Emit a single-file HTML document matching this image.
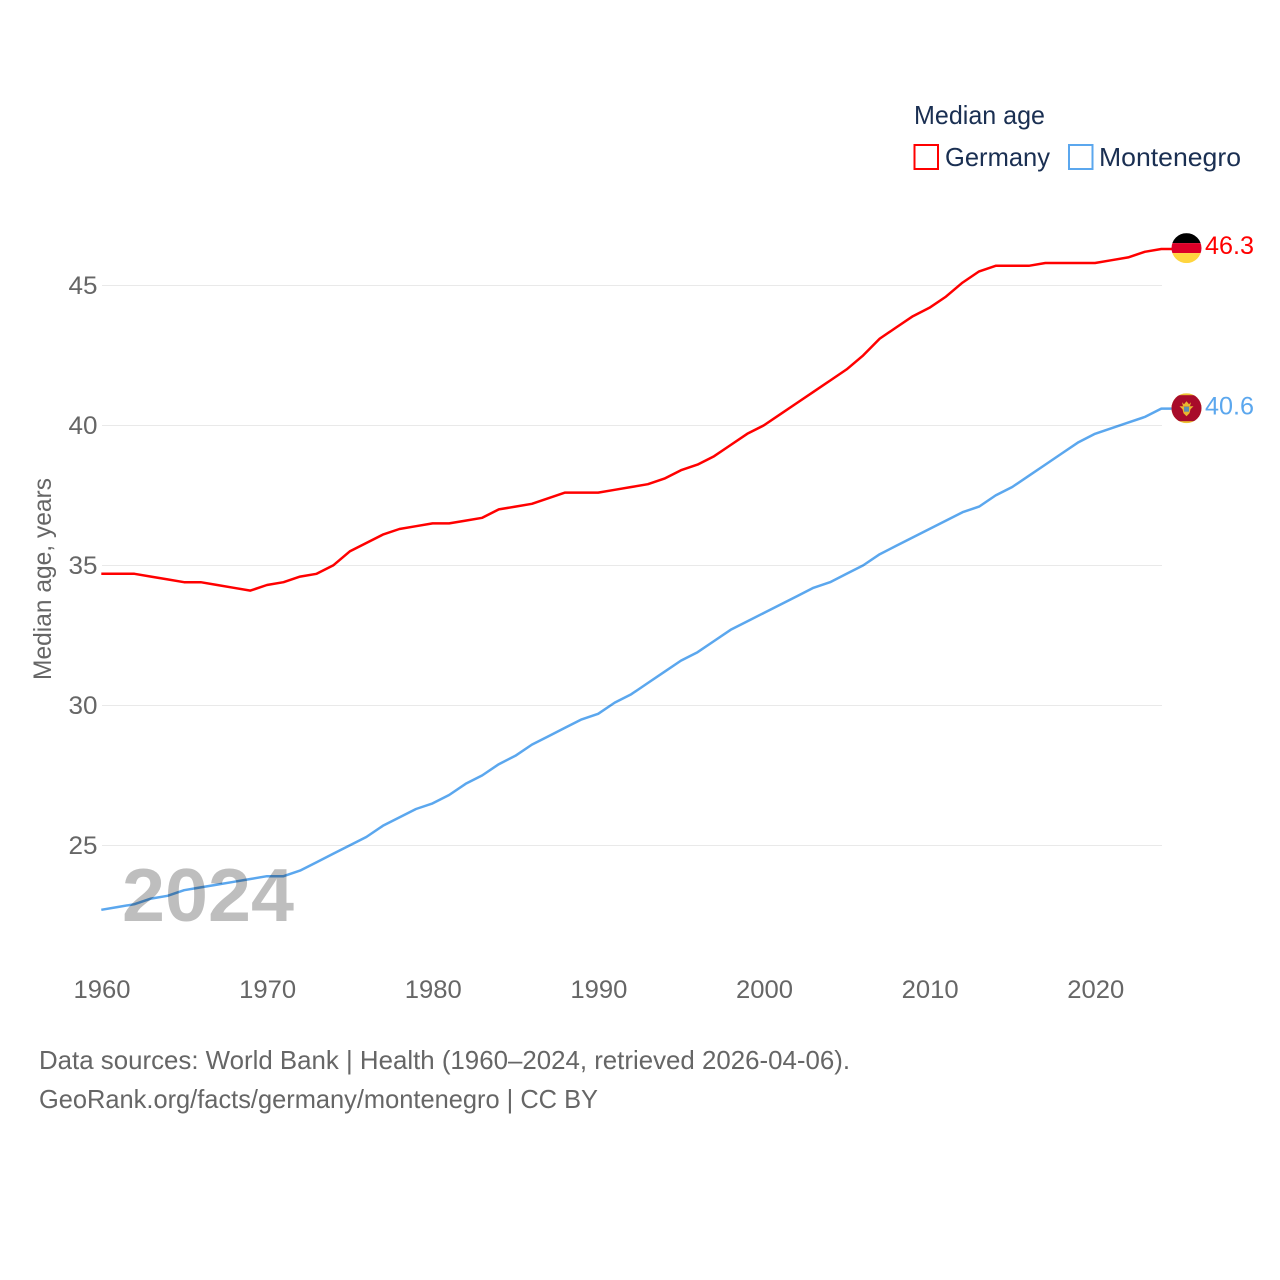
<!DOCTYPE html>
<html lang="en">
<head>
<meta charset="utf-8">
<title>Median age: Germany and Montenegro</title>
<style>
html,body{margin:0;padding:0;background:#fff;}
svg{display:block;font-family:"Liberation Sans",sans-serif;}
</style>
</head>
<body>
<svg id="chart" width="1280" height="1280" viewBox="0 0 1280 1280" xmlns="http://www.w3.org/2000/svg">
  <defs>
    <clipPath id="flag-clip-de"><circle cx="1186.5" cy="0" r="15"/></clipPath>
    <clipPath id="flag-clip-me"><circle cx="1186.5" cy="0" r="15"/></clipPath>
  </defs>
  <g id="grid"></g>
  <g id="y-ticks"></g>
  <g id="x-ticks"></g>
  <text transform="translate(51 680) rotate(-90)" font-size="25" fill="#666" textLength="202" lengthAdjust="spacingAndGlyphs">Median age, years</text>
  <text x="122" y="921" font-size="75" font-weight="700" fill="#bebebe" textLength="172" lengthAdjust="spacingAndGlyphs">2024</text>
  <g id="series" style="mix-blend-mode:multiply"></g>
  <g id="end-markers"></g>

  <g>
    <text x="914" y="124" font-size="26" fill="#1a2f52" textLength="131" lengthAdjust="spacingAndGlyphs">Median age</text>
    <rect x="914.5" y="145" width="23.5" height="24" fill="#fff" stroke="#ff0000" stroke-width="2"/>
    <text x="945" y="166" font-size="26" fill="#1a2f52" textLength="105" lengthAdjust="spacingAndGlyphs">Germany</text>
    <rect x="1069" y="145" width="23.5" height="24" fill="#fff" stroke="#5ba7ee" stroke-width="2"/>
    <text x="1099" y="166" font-size="26" fill="#1a2f52" textLength="142" lengthAdjust="spacingAndGlyphs">Montenegro</text>
  </g>

  <g font-size="26" fill="#666">
    <text x="39" y="1069" textLength="811" lengthAdjust="spacingAndGlyphs">Data sources: World Bank | Health (1960–2024, retrieved 2026-04-06).</text>
    <text x="39" y="1108" textLength="559" lengthAdjust="spacingAndGlyphs">GeoRank.org/facts/germany/montenegro | CC BY</text>
  </g>
</svg>
<script>
const years = [1960,1961,1962,1963,1964,1965,1966,1967,1968,1969,1970,1971,1972,1973,1974,1975,1976,1977,1978,1979,1980,1981,1982,1983,1984,1985,1986,1987,1988,1989,1990,1991,1992,1993,1994,1995,1996,1997,1998,1999,2000,2001,2002,2003,2004,2005,2006,2007,2008,2009,2010,2011,2012,2013,2014,2015,2016,2017,2018,2019,2020,2021,2022,2023,2024];
const germanyValues = [34.7,34.7,34.7,34.6,34.5,34.4,34.4,34.3,34.2,34.1,34.3,34.4,34.6,34.7,35.0,35.5,35.8,36.1,36.3,36.4,36.5,36.5,36.6,36.7,37.0,37.1,37.2,37.4,37.6,37.6,37.6,37.7,37.8,37.9,38.1,38.4,38.6,38.9,39.3,39.7,40.0,40.4,40.8,41.2,41.6,42.0,42.5,43.1,43.5,43.9,44.2,44.6,45.1,45.5,45.7,45.7,45.7,45.8,45.8,45.8,45.8,45.9,46.0,46.2,46.3];
const montenegroValues = [22.7,22.8,22.9,23.1,23.2,23.4,23.5,23.6,23.7,23.8,23.9,23.9,24.1,24.4,24.7,25.0,25.3,25.7,26.0,26.3,26.5,26.8,27.2,27.5,27.9,28.2,28.6,28.9,29.2,29.5,29.7,30.1,30.4,30.8,31.2,31.6,31.9,32.3,32.7,33.0,33.3,33.6,33.9,34.2,34.4,34.7,35.0,35.4,35.7,36.0,36.3,36.6,36.9,37.1,37.5,37.8,38.2,38.6,39.0,39.4,39.7,39.9,40.1,40.3,40.6];
const yTickValues = [25,30,35,40,45];
const xTickValues = [1960,1970,1980,1990,2000,2010,2020];

const NS = 'http://www.w3.org/2000/svg';
const xScale = function (year) { return 101.3 + (year - 1960) * (1060 / 64); };
const yScale = function (value) { return 285.4 + (45 - value) * 28; };

function make(tag, attrs, parent) {
  const el = document.createElementNS(NS, tag);
  Object.keys(attrs).forEach(function (k) { el.setAttribute(k, attrs[k]); });
  parent.appendChild(el);
  return el;
}

const gridGroup = document.getElementById('grid');
const yTickGroup = document.getElementById('y-ticks');
const xTickGroup = document.getElementById('x-ticks');
const seriesGroup = document.getElementById('series');
const markerGroup = document.getElementById('end-markers');

yTickValues.forEach(function (v) {
  const line = make('line', {x1: 102, x2: 1162, y1: yScale(v) + 0.1, y2: yScale(v) + 0.1, stroke: '#e9e9e9', 'stroke-width': 1}, gridGroup);
  
  
  const label = make('text', {x: 97.5, y: yScale(v) + 8.6, 'text-anchor': 'end', 'font-size': 25, fill: '#666', textLength: 29, lengthAdjust: 'spacingAndGlyphs'}, yTickGroup);
  
  
  label.textContent = v;
});

xTickValues.forEach(function (yr) {
  const label = make('text', {x: xScale(yr) + 0.7, y: 998, 'text-anchor': 'middle', 'font-size': 25, fill: '#666', textLength: 57, lengthAdjust: 'spacingAndGlyphs'}, xTickGroup);
  
  
  label.textContent = yr;
});

function linePath(values) {
  const pts = values.map(function (v, i) { return xScale(years[i]).toFixed(2) + ',' + yScale(v).toFixed(2); });
  const last = values[values.length - 1];
  pts.push((xScale(years[years.length - 1]) + 12).toFixed(2) + ',' + yScale(last).toFixed(2));
  return 'M' + pts.join('L');
}

const germanyLine = make('path', {d: linePath(germanyValues), fill: 'none', stroke: '#ff0000', 'stroke-width': 2.5, 'stroke-linejoin': 'round'}, seriesGroup);



const montenegroLine = make('path', {d: linePath(montenegroValues), fill: 'none', stroke: '#5ba7ee', 'stroke-width': 2.5, 'stroke-linejoin': 'round'}, seriesGroup);



/* Germany flag and end value */
const deY = yScale(germanyValues[germanyValues.length - 1]) - 0.9;
document.querySelector('#flag-clip-de circle').setAttribute('cy', deY);
const deFlag = make('g', {'clip-path': 'url(#flag-clip-de)'}, markerGroup);


make('rect', {x: 1171, y: deY - 15, width: 31, height: 10, fill: '#000'}, deFlag);
make('rect', {x: 1171, y: deY - 5, width: 31, height: 10, fill: '#dd0028'}, deFlag);
make('rect', {x: 1171, y: deY + 5, width: 31, height: 10, fill: '#ffd53f'}, deFlag);

const deLabel = make('text', {x: 1205, y: deY + 6, 'font-size': 25, fill: '#ff0000', textLength: 49, lengthAdjust: 'spacingAndGlyphs'}, markerGroup);


deLabel.textContent = germanyValues[germanyValues.length - 1].toFixed(1);

/* Montenegro flag and end value */
const meY = yScale(montenegroValues[montenegroValues.length - 1]) - 0.4;
document.querySelector('#flag-clip-me circle').setAttribute('cy', meY);
const meFlag = make('g', {'clip-path': 'url(#flag-clip-me)'}, markerGroup);


make('rect', {x: 1171, y: meY - 15, width: 31, height: 30, fill: '#ecc233'}, meFlag);
make('rect', {x: 1171, y: meY - 13, width: 31, height: 26, fill: '#a80c2a'}, meFlag);
make('path', {d: 'M1182 ' + (meY - 6) + 'l2 2 2.5-3 2.5 3 2-2-1 4h-7z', fill: '#e8b72f'}, meFlag);
make('path', {d: 'M1179.5 ' + (meY - 2) + 'h14l-3 3-1 4-3 3-3-3-1-4z', fill: '#e8b72f'}, meFlag);
make('rect', {x: 1184, y: meY - 1.5, width: 5, height: 5, fill: '#5d8fb0'}, meFlag);

const meLabel = make('text', {x: 1205, y: meY + 6.5, 'font-size': 25, fill: '#5ba7ee', textLength: 49, lengthAdjust: 'spacingAndGlyphs'}, markerGroup);


meLabel.textContent = montenegroValues[montenegroValues.length - 1].toFixed(1);
</script>
</body>
</html>
